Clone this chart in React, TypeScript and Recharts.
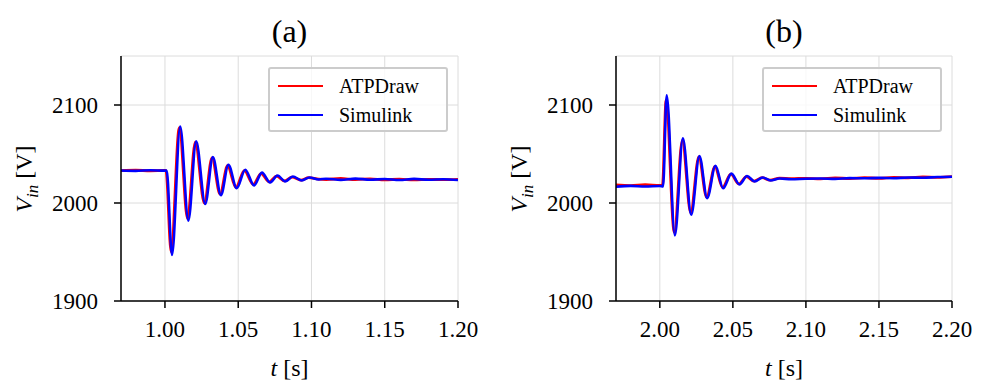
import React from 'react'
import { CartesianGrid, Line, LineChart, XAxis, YAxis } from 'recharts'

// panel (a): step near t = 1.00 s
const simTimeA = [0.97, 0.98, 0.99, 1.0, 1.0012, 1.0048, 1.0104, 1.016, 1.0213, 1.0275, 1.0327, 1.0382, 1.0433, 1.049, 1.0548, 1.0608, 1.0662, 1.0718, 1.0768, 1.0821, 1.0873, 1.0934, 1.0986, 1.105, 1.11, 1.12, 1.13, 1.14, 1.15, 1.16, 1.17, 1.18, 1.19, 1.2]
const simValA = [2033.2, 2032.8, 2033.4, 2033.0, 2033, 1947, 2078, 1982, 2063, 1999, 2047, 2008, 2039, 2015, 2034, 2018, 2031, 2021, 2028, 2022, 2027, 2023, 2026, 2024, 2024.8, 2023.6, 2024.9, 2023.8, 2024.5, 2023.4, 2024.6, 2023.7, 2024.3, 2023.5]
const atpTimeA = [0.97, 0.98, 0.99, 1.0, 1.0007, 1.0042, 1.0098, 1.0154, 1.0207, 1.0269, 1.0321, 1.0376, 1.0427, 1.0484, 1.0542, 1.0602, 1.0656, 1.0712, 1.0762, 1.0815, 1.0867, 1.0928, 1.098, 1.105, 1.11, 1.12, 1.13, 1.14, 1.15, 1.16, 1.17, 1.18, 1.19, 1.2]
const atpValA = [2033.0, 2033.4, 2032.9, 2033.2, 2033, 1950, 2077, 1984, 2062, 2000, 2046, 2009, 2038, 2016, 2033, 2019, 2030, 2021.5, 2027.5, 2022.5, 2026.5, 2023.3, 2025.8, 2024.3, 2024.0, 2025.0, 2023.9, 2024.7, 2023.6, 2024.4, 2023.5, 2024.2, 2023.8, 2024.1]

// panel (b): step near t = 2.00 s
const simTimeB = [1.97, 1.98, 1.99, 2.0, 2.0022, 2.0047, 2.0103, 2.0158, 2.0215, 2.0271, 2.0324, 2.0381, 2.0433, 2.049, 2.0545, 2.0597, 2.0649, 2.0704, 2.0758, 2.082, 2.09, 2.1, 2.11, 2.12, 2.13, 2.14, 2.15, 2.16, 2.17, 2.18, 2.19, 2.2]
const simValB = [2016.5, 2017.5, 2016.8, 2017.4, 2017, 2110, 1967, 2066, 1988, 2048, 2005, 2038, 2015, 2030, 2019, 2027.5, 2022, 2026, 2023, 2025, 2024.3, 2024.8, 2025, 2024.6, 2025.4, 2025.2, 2025.6, 2025.3, 2026, 2025.8, 2026.5, 2026.8]
const atpTimeB = [1.97, 1.98, 1.99, 2.0, 2.0018, 2.0043, 2.0099, 2.0154, 2.0211, 2.0267, 2.032, 2.0377, 2.0429, 2.0486, 2.0541, 2.0593, 2.0645, 2.07, 2.0754, 2.082, 2.09, 2.1, 2.11, 2.12, 2.13, 2.14, 2.15, 2.16, 2.17, 2.18, 2.19, 2.2]
const atpValB = [2018.4, 2017.8, 2018.6, 2018.0, 2018, 2105, 1970, 2064, 1990, 2047, 2006, 2037, 2016, 2029.5, 2019.5, 2027, 2022.3, 2025.8, 2023.3, 2025.3, 2024.8, 2025.2, 2024.6, 2025.5, 2025.0, 2025.8, 2025.2, 2026.2, 2025.6, 2026.6, 2026.2, 2027.0]

const xTicksA = [1.0, 1.05, 1.1, 1.15, 1.2]
const xTicksB = [2.0, 2.05, 2.1, 2.15, 2.2]
const yTicks = [1900, 2000, 2100]

const font = 'Liberation Serif'

const toPoints = (t: number[], v: number[]) => t.map((x, i) => ({ t: x, v: v[i] }))

// tick labels drawn by hand so the serif font is certain to be used
const XTick = (p: any) => (
  <text x={p.x} y={p.y + 23} textAnchor="middle" fontFamily={font} fontSize={23} fill="#000">
    {Number(p.payload.value).toFixed(2)}
  </text>
)
const YTick = (p: any) => (
  <text x={p.x} y={p.y + 8} textAnchor="end" fontFamily={font} fontSize={23} fill="#000">
    {p.payload.value}
  </text>
)

function Panel(props: {
  left: number
  width: number
  marginRight: number
  domain: [number, number]
  ticks: number[]
  atp: { t: number; v: number }[]
  sim: { t: number; v: number }[]
  title: string
}) {
  const { left, width, marginRight, domain, ticks, atp, sim, title } = props
  const plotLeft = left + 121
  const plotRight = left + width - marginRight
  const cx = (plotLeft + plotRight) / 2
  return (
    <>
      <div style={{ position: 'absolute', left, top: 0 }}>
        <LineChart width={width} height={383} margin={{ top: 56, right: marginRight, left: 0, bottom: 52 }}>
          <CartesianGrid stroke="#dcdcdc" strokeWidth={1} />
          <XAxis
            dataKey="t"
            type="number"
            domain={domain}
            ticks={ticks}
            allowDataOverflow
            tick={<XTick />}
            tickSize={7}
            tickMargin={6}
            height={30}
            axisLine={{ stroke: '#000', strokeWidth: 1.5 }}
            tickLine={{ stroke: '#000', strokeWidth: 1.5 }}
          />
          <XAxis
            xAxisId="top"
            orientation="top"
            type="number"
            domain={domain}
            tick={false}
            tickLine={false}
            height={0}
            axisLine={{ stroke: '#000', strokeWidth: 1.5 }}
          />
          <YAxis
            type="number"
            domain={[1900, 2150]}
            ticks={yTicks}
            allowDataOverflow
            tick={<YTick />}
            tickSize={7}
            tickMargin={16}
            width={121}
            axisLine={{ stroke: '#000', strokeWidth: 1.5 }}
            tickLine={{ stroke: '#000', strokeWidth: 1.5 }}
          />
          <YAxis
            yAxisId="right"
            orientation="right"
            type="number"
            domain={[1900, 2150]}
            tick={false}
            tickLine={false}
            width={0}
            axisLine={{ stroke: '#000', strokeWidth: 1.5 }}
          />
          <Line data={atp} dataKey="v" type="monotone" stroke="#ff0000" strokeWidth={2.8} dot={false} isAnimationActive={false} />
          <Line data={sim} dataKey="v" type="monotone" stroke="#0000ff" strokeWidth={2.6} dot={false} isAnimationActive={false} />
        </LineChart>
      </div>
      <div style={{ position: 'absolute', left: cx, top: 31, transform: 'translate(-50%, -50%)', fontFamily: font, fontSize: 32, whiteSpace: 'nowrap' }}>
        {title}
      </div>
      <div style={{ position: 'absolute', left: cx, top: 368, transform: 'translate(-50%, -50%)', fontFamily: font, fontSize: 24, whiteSpace: 'nowrap' }}>
        <i>t</i> [s]
      </div>
      <div style={{ position: 'absolute', left: left + 27, top: 179, transform: 'translate(-50%, -50%) rotate(-90deg)', fontFamily: font, fontSize: 24, whiteSpace: 'nowrap' }}>
        <i>V</i>
        <sub style={{ fontSize: 17, fontStyle: 'italic' }}>in</sub> [V]
      </div>
      <div
        style={{
          position: 'absolute',
          left: plotRight - 190,
          top: 67,
          width: 176,
          height: 61,
          border: '2px solid #cccccc',
          borderRadius: 3,
          background: 'rgba(255,255,255,0.8)',
          fontFamily: font,
          fontSize: 20,
        }}
      >
        {[
          { name: 'ATPDraw', color: '#ff0000' },
          { name: 'Simulink', color: '#0000ff' },
        ].map((s, i) => (
          <div key={s.name} style={{ position: 'absolute', left: 8, top: 4 + i * 29, height: 26, display: 'flex', alignItems: 'center' }}>
            <div style={{ width: 45, height: 2, background: s.color, marginRight: 16 }} />
            <span>{s.name}</span>
          </div>
        ))}
      </div>
    </>
  )
}

export default function App() {
  return (
    <div style={{ position: 'absolute', left: 0, top: 0, width: 983, height: 383, background: '#fff' }}>
      <Panel left={0} width={490} marginRight={32} domain={[0.97, 1.2]} ticks={xTicksA} atp={toPoints(atpTimeA, atpValA)} sim={toPoints(simTimeA, simValA)} title="(a)" />
      <Panel left={495} width={488} marginRight={31} domain={[1.97, 2.2]} ticks={xTicksB} atp={toPoints(atpTimeB, atpValB)} sim={toPoints(simTimeB, simValB)} title="(b)" />
    </div>
  )
}
